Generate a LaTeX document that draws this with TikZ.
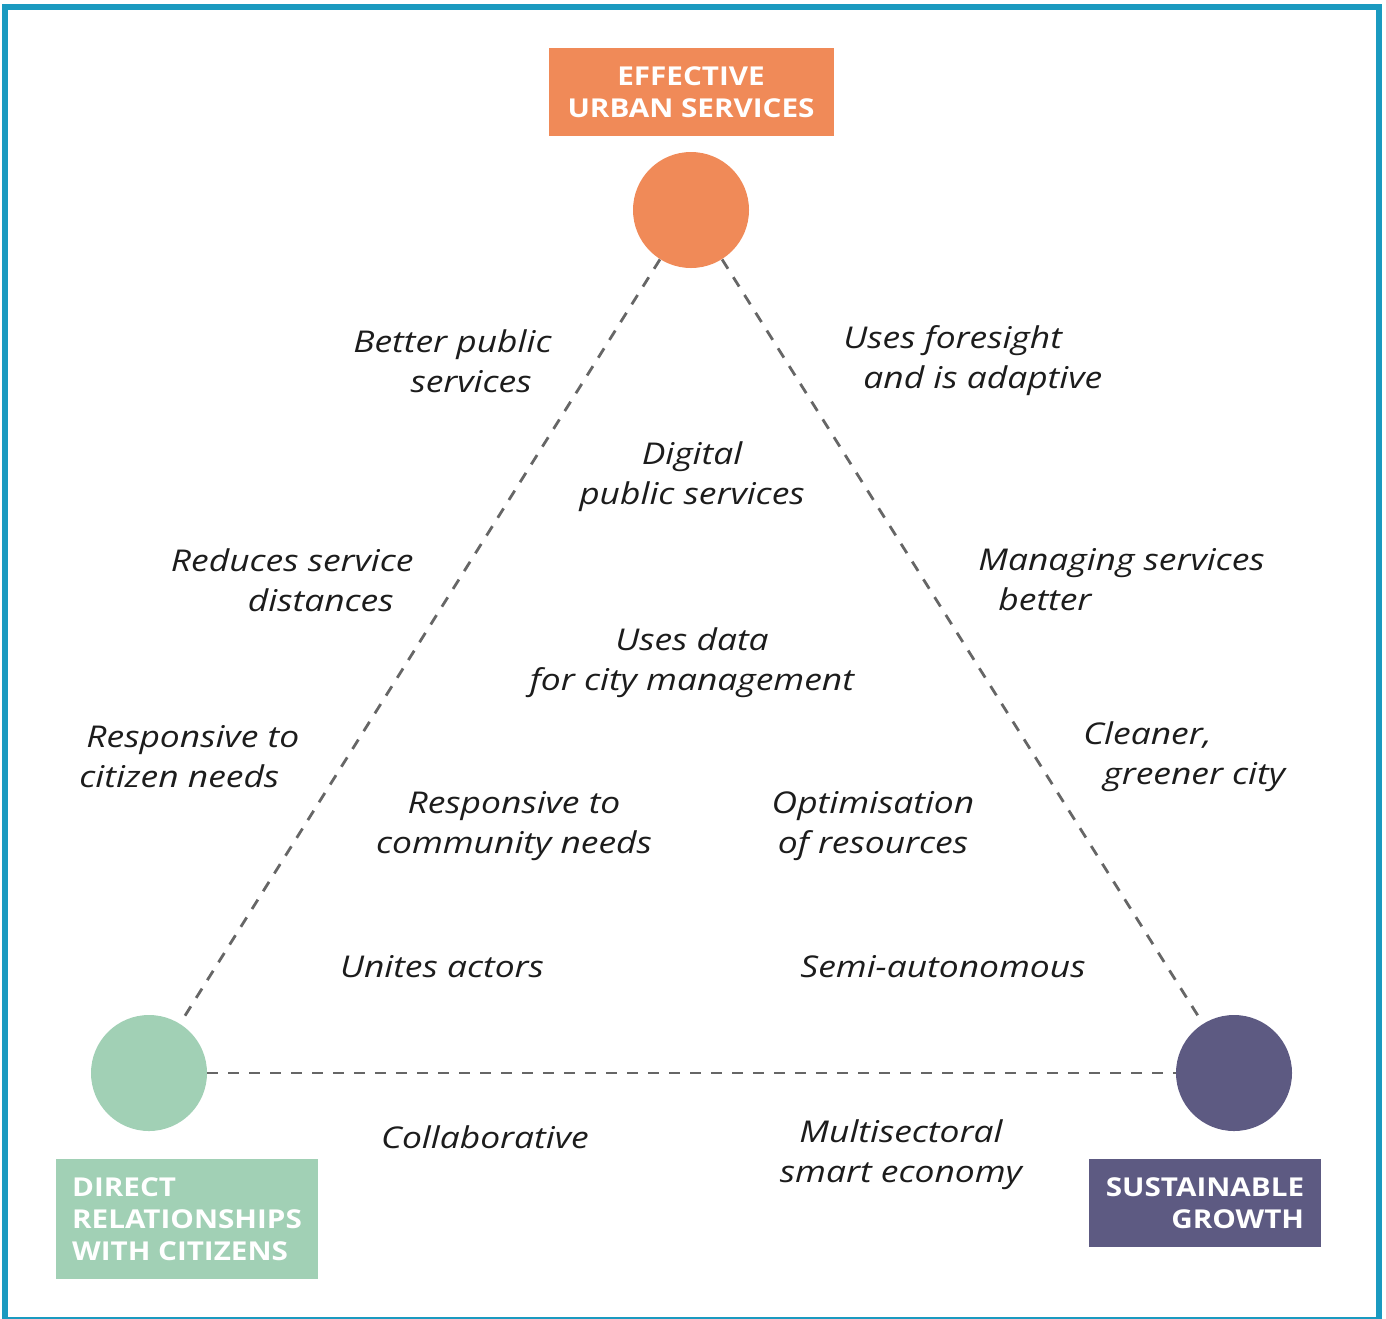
\documentclass[tikz,border=0pt]{standalone}
\usepackage{fontspec}
\setmainfont{Open Sans}
\newfontfamily\qualityfont{Open Sans}[FakeStretch=1.18]
\newfontfamily\headingfont{Open Sans}[FakeStretch=1.14]
\usetikzlibrary{positioning}

\definecolor{frameblue}{HTML}{1A9AC0}
\definecolor{urbanorange}{HTML}{F08A58}
\definecolor{citizengreen}{HTML}{A1D0B5}
\definecolor{growthpurple}{HTML}{5D5A82}
\definecolor{linegray}{HTML}{666666}
\definecolor{labelblack}{HTML}{1C1C1C}

\tikzset{
  pillar/.style={circle, minimum size=58pt, inner sep=0pt},
  heading/.style={font=\headingfont\fontsize{13}{16}\selectfont\bfseries, text=white, inner sep=0pt},
  link/.style={draw=linegray, line width=1.4pt, dash pattern=on 5.5pt off 5pt},
  quality/.style={font=\qualityfont\fontsize{15}{20}\selectfont\itshape, text=labelblack, inner sep=0pt},
}

\begin{document}
\begin{tikzpicture}[x=0.5pt, y=-0.5pt]
  \useasboundingbox (0,0) rectangle (1386,1318);

  % Frame
  \draw[frameblue, line width=3pt] (5,7) rectangle (1379,1319.5);

  % Pillars
  \node[pillar, fill=urbanorange]  (urban)    at (691,210)  {};
  \node[pillar, fill=citizengreen] (citizens) at (149,1073) {};
  \node[pillar, fill=growthpurple] (growth)   at (1234,1073) {};

  % Pillar headings
  \node[heading, fill=urbanorange, minimum width=142.5pt, minimum height=44pt,
        align=center, above=7.5pt of urban] (urbanlbl) {EFFECTIVE\\URBAN SERVICES};
  \node[heading, fill=citizengreen, minimum width=131pt, minimum height=60pt,
        align=left, below=13.5pt of citizens, xshift=19pt] (citizenslbl) {DIRECT\\RELATIONSHIPS\\WITH CITIZENS};
  \node[heading, fill=growthpurple, minimum width=116pt, minimum height=44pt,
        align=right, below=13.5pt of growth, xshift=-14.5pt] (growthlbl) {SUSTAINABLE\\GROWTH};

  % Edges
  \draw[link] (urban) -- (citizens);
  \draw[link] (urban) -- (growth);
  \draw[link] (citizens) -- (growth);

  % Outer qualities
  \node[quality, align=right, anchor=east] (better)    at (552,361)  {Better public\\services\hspace*{10pt}};
  \node[quality, align=left, anchor=west]  (foresight) at (843,361)  {Uses foresight\\\hspace*{10pt}and is adaptive};
  \node[quality, align=right, anchor=east] (reduces)   at (414,580)  {Reduces service\\distances\hspace*{10pt}};
  \node[quality, align=left, anchor=west]  (managing)  at (978,580)  {Managing services\\\hspace*{10pt}better};
  \node[quality, align=left, anchor=west]  (citizen)   at (79,757)   {\hspace*{3.5pt}Responsive to\\citizen needs};
  \node[quality, align=left, anchor=west]  (cleaner)   at (1083,757) {Cleaner,\\\hspace*{10pt}greener city};

  % Inner qualities
  \node[quality, align=center] (digital)   at (692,477) {Digital\\public services};
  \node[quality, align=center] (usesdata)  at (692,663) {Uses data\\for city management};
  \node[quality, align=center] (community) at (514,826) {Responsive to\\community needs};
  \node[quality, align=center] (optimise)  at (873,826) {Optimisation\\of resources};
  \node[quality]               (unites)    at (442,967) {Unites actors};
  \node[quality]               (semiauto)  at (943,967) {Semi-autonomous};

  % Bottom qualities
  \node[quality]               (collab)    at (485,1137) {Collaborative};
  \node[quality, align=center] (multisect) at (901,1155) {Multisectoral\\smart economy};

\end{tikzpicture}
\end{document}
